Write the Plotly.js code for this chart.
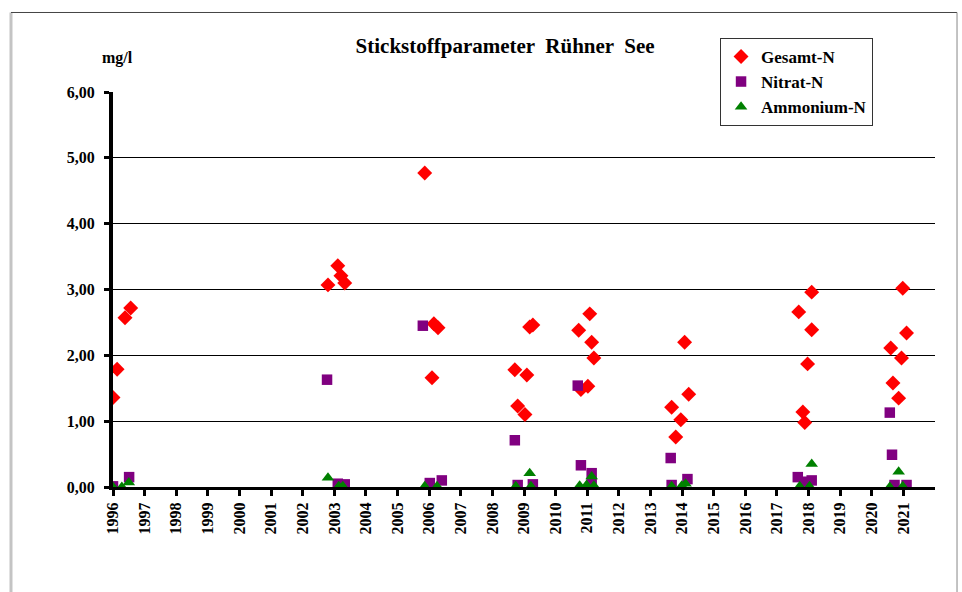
<!DOCTYPE html>
<html>
<head>
<meta charset="utf-8">
<script src="https://cdn.plot.ly/plotly-3.0.1.min.js"></script>
<style>
  html, body { margin: 0; padding: 0; background: #fff; }
  #chart { width: 962px; height: 592px; }
</style>
</head>
<body>
<div id="chart"></div>
<script>
// Gesamt-N (mg/l) against decimal year of sampling
const gesamtX = [1996.0, 1996.13, 1996.38, 1996.56,
  2002.80, 2003.11, 2003.21, 2003.33,
  2005.86, 2006.09, 2006.15, 2006.28,
  2008.71, 2008.80, 2009.03, 2009.09, 2009.18, 2009.28,
  2010.73, 2010.80, 2011.02, 2011.08, 2011.14, 2011.21,
  2013.67, 2013.80, 2013.96, 2014.08, 2014.21,
  2017.69, 2017.82, 2017.88, 2017.97, 2018.10, 2018.10,
  2020.60, 2020.67, 2020.85, 2020.94, 2020.98, 2021.10];
const gesamtY = [1.36, 1.79, 2.57, 2.72,
  3.07, 3.36, 3.21, 3.10,
  4.77, 1.66, 2.48, 2.42,
  1.78, 1.23, 1.10, 1.70, 2.43, 2.46,
  2.38, 1.48, 1.53, 2.63, 2.20, 1.96,
  1.21, 0.76, 1.02, 2.20, 1.41,
  2.66, 1.14, 0.98, 1.87, 2.96, 2.39,
  2.11, 1.58, 1.35, 1.96, 3.02, 2.34];

const nitratX = [1996.0, 1996.51,
  2002.77, 2003.11, 2003.33,
  2005.80, 2006.02, 2006.40,
  2008.71, 2008.80, 2009.28,
  2010.70, 2010.80, 2011.14, 2011.14,
  2013.64, 2013.67, 2014.17,
  2017.66, 2017.88, 2018.10,
  2020.57, 2020.64, 2020.72, 2021.10];
const nitratY = [0.01, 0.15,
  1.63, 0.05, 0.04,
  2.45, 0.06, 0.10,
  0.71, 0.03, 0.04,
  1.54, 0.33, 0.21, 0.05,
  0.44, 0.03, 0.12,
  0.15, 0.08, 0.10,
  1.13, 0.49, 0.03, 0.03];

const ammonX = [1996.0, 1996.28, 1996.50,
  2002.80, 2003.14, 2003.27,
  2005.86, 2006.25,
  2008.74, 2009.18, 2009.22,
  2010.76, 2010.98, 2011.14, 2011.21,
  2013.67, 2013.99, 2014.11,
  2017.72, 2018.03, 2018.10,
  2020.57, 2020.85, 2020.98];
const ammonY = [0.0, 0.0, 0.07,
  0.14, 0.01, 0.01,
  0.01, 0.01,
  0.01, 0.21, 0.01,
  0.02, 0.03, 0.16, 0.02,
  0.01, 0.02, 0.05,
  0.01, 0.01, 0.35,
  0.0, 0.23, 0.01];

const years = [];
for (let y = 1996; y <= 2021; y += 1) years.push(y);
const yTicks = [0, 1, 2, 3, 4, 5, 6];

const serif = "Liberation Serif, Times New Roman, serif";

const traces = [
  {
    name: "Gesamt-N", x: gesamtX, y: gesamtY, type: "scatter", mode: "markers",
    marker: { symbol: "diamond", color: "#ff0000", size: 11.5 },
    legendrank: 1,
  },
  {
    name: "Nitrat-N", x: nitratX, y: nitratY, type: "scatter", mode: "markers",
    marker: { symbol: "square", color: "#800080", size: 10.5 },
    legendrank: 2,
  },
  {
    name: "Ammonium-N", x: ammonX, y: ammonY, type: "scatter", mode: "markers",
    marker: { symbol: "triangle-up", color: "#008000", size: 11 },
    legendrank: 3,
  },
];

const layout = {
  width: 962,
  height: 592,
  margin: { l: 113, r: 27, t: 92, b: 105 },
  paper_bgcolor: "#fff",
  plot_bgcolor: "#fff",
  separators: ",.",
  font: { family: serif, color: "#000", size: 15, weight: "bold" },
  title: {
    text: "Stickstoffparameter  Rühner  See",
    font: { family: serif, size: 21, weight: "bold", color: "#000" },
    xref: "paper", x: 0.477, xanchor: "center",
    yref: "container", y: 1 - 46 / 592, yanchor: "middle",
  },
  xaxis: {
    range: [1996, 2022],
    tickvals: years,
    ticktext: years.map(String),
    tickangle: -90,
    ticks: "outside", ticklen: 6, tickwidth: 3, tickcolor: "#000",
    showline: true, linecolor: "#000", linewidth: 3,
    showgrid: false, zeroline: false,
    tickfont: { family: serif, size: 16, weight: "bold", color: "#000" },
    fixedrange: true,
  },
  yaxis: {
    range: [0, 6],
    tickvals: yTicks,
    tickformat: ".2f",
    ticks: "outside", ticklen: 5, tickwidth: 3, tickcolor: "#000",
    ticklabelstandoff: 6,
    showline: true, linecolor: "#000", linewidth: 4,
    showgrid: true, gridcolor: "#000", gridwidth: 1,
    zeroline: false,
    tickfont: { family: serif, size: 16, weight: "bold", color: "#000" },
    fixedrange: true,
  },
  legend: {
    x: 0.7385, y: 1.137, xanchor: "left", yanchor: "top",
    bgcolor: "#fff", bordercolor: "#333", borderwidth: 1,
    font: { family: serif, size: 17, weight: "bold", color: "#000" },
    itemwidth: 30,
    tracegroupgap: 0,
  },
  annotations: [
    {
      text: "mg/l", xref: "paper", yref: "paper",
      x: 0.006, y: 1.086, xanchor: "center", yanchor: "middle",
      showarrow: false,
      font: { family: serif, size: 16, weight: "bold", color: "#000" },
    },
  ],
  shapes: [
    { type: "line", xref: "paper", yref: "paper", x0: -0.1241, x1: -0.1241, y0: 1.2013, y1: -0.3,
      line: { color: "#c4c4c4", width: 3 } },
    { type: "line", xref: "paper", yref: "paper", x0: -0.1241, x1: 1.0268, y0: 1.2013, y1: 1.2013,
      line: { color: "#444", width: 1 } },
    { type: "line", xref: "paper", yref: "paper", x0: 1.0268, x1: 1.0268, y0: 1.2013, y1: -0.3,
      line: { color: "#888", width: 1 } },
  ],
  showlegend: true,
};

Plotly.newPlot("chart", traces, layout, { displayModeBar: false, staticPlot: true });
</script>
</body>
</html>
